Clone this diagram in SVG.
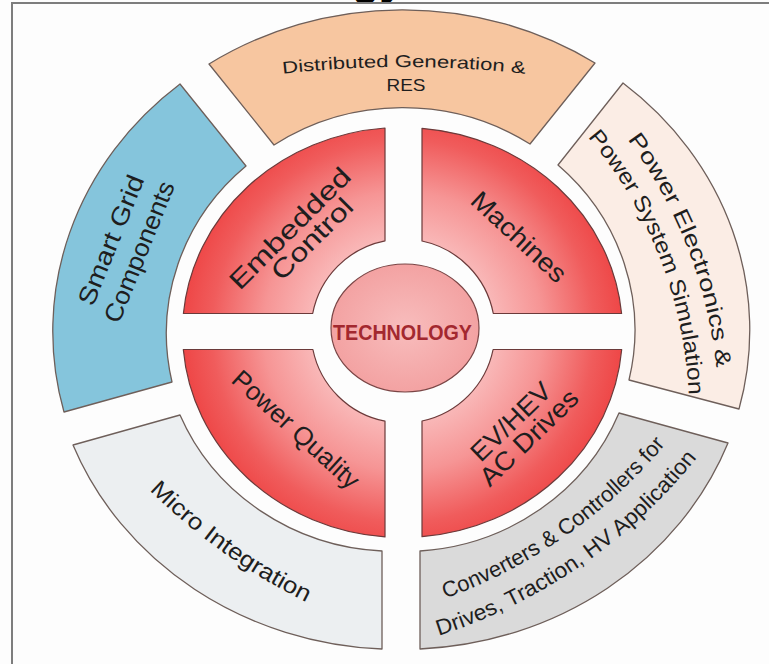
<svg xmlns="http://www.w3.org/2000/svg" width="769" height="664" viewBox="0 0 769 664">
<defs>
  <radialGradient id="redGrad" gradientUnits="userSpaceOnUse" cx="403" cy="331" r="225">
    <stop offset="0.4" stop-color="#F9B9B9"/>
    <stop offset="0.62" stop-color="#F69595"/>
    <stop offset="0.85" stop-color="#F05C5C"/>
    <stop offset="1" stop-color="#EE4343"/>
  </radialGradient>
  <radialGradient id="techGrad" cx="0.5" cy="0.5" r="0.5">
    <stop offset="0" stop-color="#F8BDBD"/>
    <stop offset="1" stop-color="#F3A2A2"/>
  </radialGradient>
  <path id="tpDist" d="M 244,78.7 A 1100 1100 0 0 1 564,78.7"/>
  <path id="tpPE1" d="M 554,61.1 A 464 464 0 0 1 715,475.3"/>
  <path id="tpPE2" d="M 534.1,83.6 A 430 430 0 0 1 685.4,470.6"/>
  <path id="tpConv1" d="M 370.3,619.3 A 514 514 0 0 0 710.6,380.8"/>
  <path id="tpConv2" d="M 358.5,655.2 A 547 547 0 0 0 743.7,389.5"/>
  <path id="tpMicro" d="M 64.4,385 A 605 605 0 0 0 433.5,648.2"/>
</defs>
<style>
  .seg{stroke:#6e5f5a;stroke-width:1.3;stroke-linejoin:round}
  .quad{fill:url(#redGrad);stroke:#6b3a3a;stroke-width:1.2;stroke-linejoin:round}
  .lbl{font-family:"Liberation Sans",Arial,Helvetica,sans-serif;fill:#1e1e1e}
  .tech{font-family:"Liberation Sans",Arial,Helvetica,sans-serif;fill:#A3282F;font-weight:bold}
  .title{font-family:"Liberation Sans",Arial,Helvetica,sans-serif;fill:#000;font-weight:bold}
  .frame{stroke:#7d7d7d;stroke-width:2;fill:none}
</style>
<rect x="0" y="0" width="769" height="664" fill="#FDFDFD"/>
<text class="title" x="160" y="-5" font-size="44">Technology</text>
<path class="frame" d="M 12,664 L 12,3 L 769,3"/>

<g id="node-distributed">
  <path class="seg" fill="#F7C6A0" d="M 209,64 A 348 320 0 0 1 595,63 L 530,144 A 232 222 0 0 0 274,145 Z"/>
  <text class="lbl" font-size="17" text-anchor="middle"><textPath href="#tpDist" startOffset="50%" textLength="243" lengthAdjust="spacingAndGlyphs">Distributed Generation &amp;</textPath></text>
  <text class="lbl" x="406" y="91" font-size="17" text-anchor="middle" textLength="39" lengthAdjust="spacingAndGlyphs">RES</text>
</g>

<g id="node-smartgrid">
  <path class="seg" fill="#85C5DC" d="M 180,84 L 246,166 A 232 222 0 0 0 172,382 L 64,412 A 348 320 0 0 1 180,84 Z"/>
  <g transform="translate(118.8,243.2) rotate(-68)">
    <text class="lbl" x="0" y="0" font-size="25" text-anchor="middle" textLength="138" lengthAdjust="spacingAndGlyphs">Smart Grid</text>
  </g>
  <g transform="translate(147.2,254.9) rotate(-68)">
    <text class="lbl" x="0" y="0" font-size="25" text-anchor="middle" textLength="150" lengthAdjust="spacingAndGlyphs">Components</text>
  </g>
</g>

<g id="node-powerelectronics">
  <path class="seg" fill="#FBEDE5" d="M 623,83 A 348 320 0 0 1 739,409 L 629,380 A 232 222 0 0 0 558,165 Z"/>
  <text class="lbl" font-size="22" text-anchor="middle"><textPath href="#tpPE1" startOffset="50%" textLength="248" lengthAdjust="spacingAndGlyphs">Power Electronics &amp;</textPath></text>
  <text class="lbl" font-size="22" text-anchor="middle"><textPath href="#tpPE2" startOffset="50%" textLength="282" lengthAdjust="spacingAndGlyphs">Power System Simulation</textPath></text>
</g>

<g id="node-converters">
  <path class="seg" fill="#DADADA" d="M 619,413 L 728,443 A 348 320 0 0 1 420,649 L 420,551 A 232 222 0 0 0 619,413 Z"/>
  <text class="lbl" font-size="22" text-anchor="middle"><textPath href="#tpConv1" startOffset="50%" textLength="272" lengthAdjust="spacingAndGlyphs">Converters &amp; Controllers for</textPath></text>
  <text class="lbl" font-size="22" text-anchor="middle"><textPath href="#tpConv2" startOffset="50%" textLength="318" lengthAdjust="spacingAndGlyphs">Drives, Traction, HV Application</textPath></text>
</g>

<g id="node-micro">
  <path class="seg" fill="#ECEFF1" d="M 73,445 L 180,415 A 232 222 0 0 0 382,551 L 382,649 A 348 320 0 0 1 73,445 Z"/>
  <text class="lbl" font-size="23" text-anchor="middle"><textPath href="#tpMicro" startOffset="50%" textLength="194" lengthAdjust="spacingAndGlyphs">Micro Integration</textPath></text>
</g>

<g id="node-embedded">
  <path class="quad" d="M 385,128 L 385,240.8 A 92 92 0 0 0 312.7,313.5 L 183.4,313.5 A 220 205 0 0 1 385,128 Z"/>
  <g transform="translate(296.3,234.6) rotate(-45)">
    <text class="lbl" x="0" y="0" font-size="26" text-anchor="middle" textLength="160" lengthAdjust="spacingAndGlyphs">Embedded</text>
    <text class="lbl" x="8" y="23" font-size="26" text-anchor="middle" textLength="104" lengthAdjust="spacingAndGlyphs">Control</text>
  </g>
</g>

<g id="node-machines">
  <path class="quad" d="M 422,128.3 A 220 205 0 0 1 621.6,313.5 L 493.3,313.5 A 92 92 0 0 0 422,241 Z"/>
  <g transform="translate(512.9,243.3) rotate(43)">
    <text class="lbl" x="0" y="0" font-size="26" text-anchor="middle" textLength="120" lengthAdjust="spacingAndGlyphs">Machines</text>
  </g>
</g>

<g id="node-powerquality">
  <path class="quad" d="M 183.3,349.5 L 312.9,349.5 A 92 92 0 0 0 385,421.2 L 385,536.9 A 220 205 0 0 1 183.3,349.5 Z"/>
  <g transform="translate(290,436) rotate(42.3)">
    <text class="lbl" x="0" y="0" font-size="26" text-anchor="middle" textLength="162" lengthAdjust="spacingAndGlyphs">Power Quality</text>
  </g>
</g>

<g id="node-ev">
  <path class="quad" d="M 422,421 L 422,536.7 A 220 205 0 0 0 621.7,349.5 L 493.1,349.5 A 92 92 0 0 1 422,421 Z"/>
  <g transform="translate(517,428) rotate(-44)">
    <text class="lbl" x="0" y="0" font-size="26" text-anchor="middle" textLength="101" lengthAdjust="spacingAndGlyphs">EV/HEV</text>
    <text class="lbl" x="2" y="24" font-size="26" text-anchor="middle" textLength="126" lengthAdjust="spacingAndGlyphs">AC Drives</text>
  </g>
</g>

<g id="node-technology">
  <ellipse cx="405" cy="328" rx="74" ry="64" fill="url(#techGrad)" stroke="#7a4545" stroke-width="1.2"/>
  <text class="tech" x="402.5" y="339.5" font-size="22" text-anchor="middle" textLength="139" lengthAdjust="spacingAndGlyphs">TECHNOLOGY</text>
</g>

<g id="connectors"/>
</svg>
